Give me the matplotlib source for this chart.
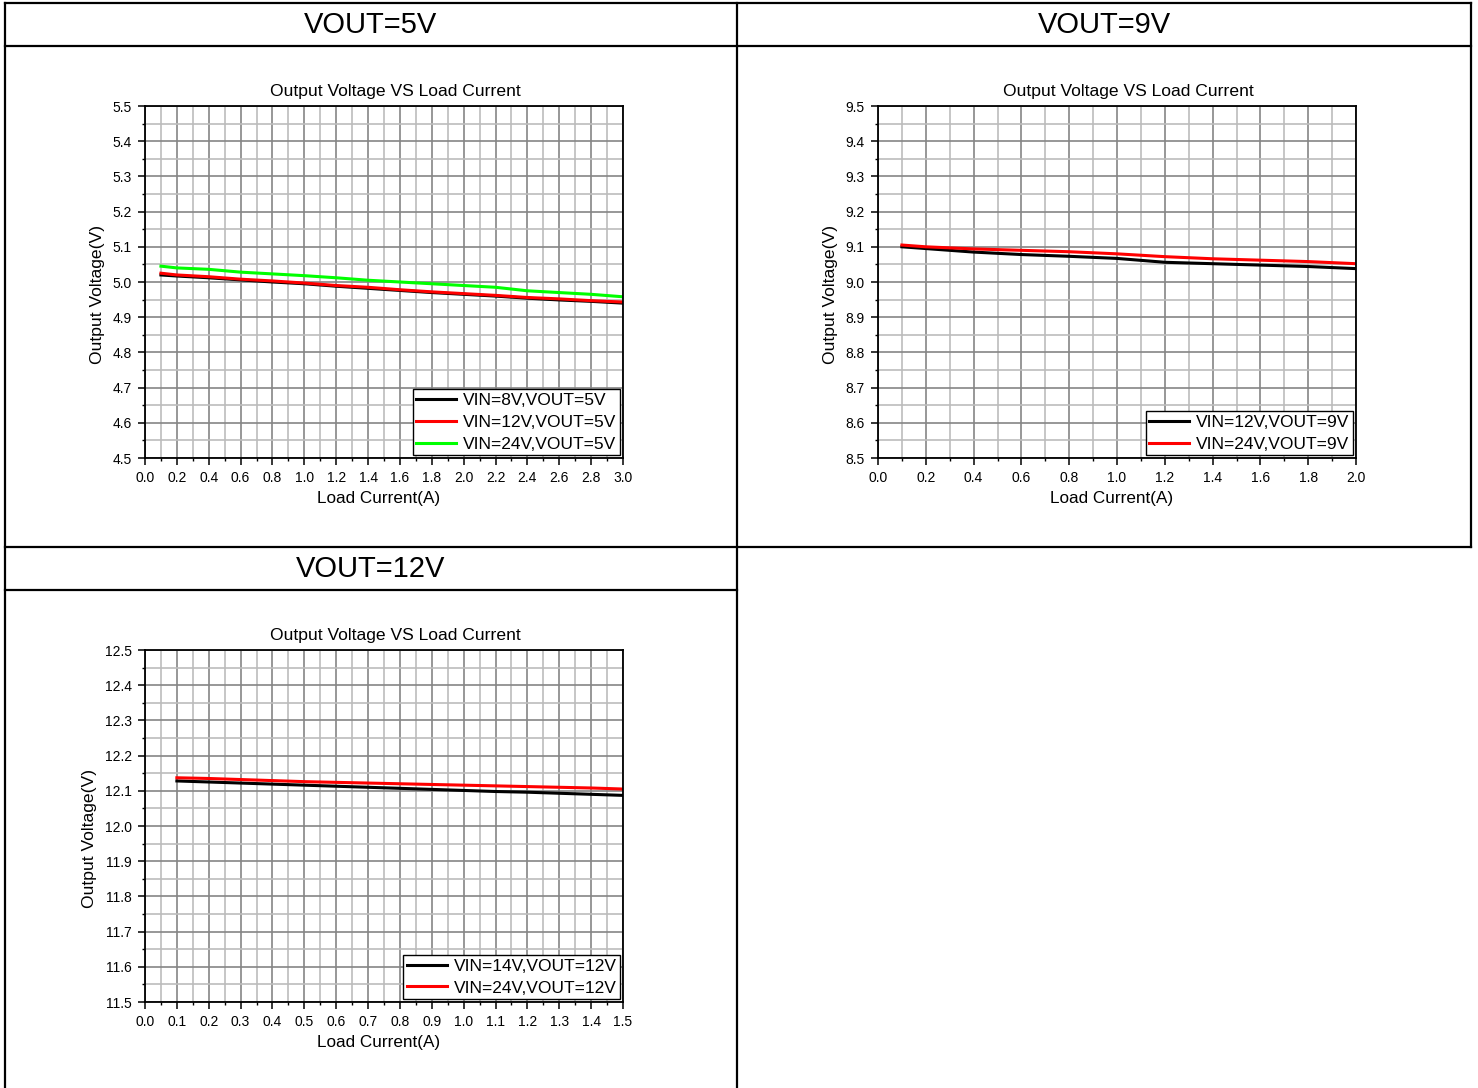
import matplotlib.pyplot as plt
from matplotlib.lines import Line2D
from matplotlib.ticker import MultipleLocator

plt.rcParams['font.family'] = ['Liberation Sans', 'DejaVu Sans']

W, H = 1478, 1088

# VOUT = 5V
x5 = [0.1, 0.2, 0.4, 0.6, 0.8, 1.0, 1.2, 1.4, 1.6, 1.8, 2.0, 2.2, 2.4, 2.6, 2.8, 3.0]
v5_vin8 = [5.020, 5.017, 5.012, 5.006, 5.000, 4.995, 4.988, 4.982, 4.976, 4.970,
           4.965, 4.960, 4.954, 4.949, 4.945, 4.940]
v5_vin12 = [5.025, 5.020, 5.015, 5.008, 5.003, 4.997, 4.990, 4.985, 4.978, 4.972,
            4.967, 4.962, 4.956, 4.952, 4.947, 4.943]
v5_vin24 = [5.045, 5.040, 5.036, 5.028, 5.023, 5.018, 5.012, 5.005, 5.000, 4.995,
            4.990, 4.985, 4.975, 4.970, 4.965, 4.958]

# VOUT = 9V
x9 = [0.1, 0.2, 0.4, 0.6, 0.8, 1.0, 1.2, 1.4, 1.6, 1.8, 2.0]
v9_vin12 = [9.100, 9.095, 9.085, 9.078, 9.073, 9.067, 9.056, 9.052, 9.048, 9.044, 9.038]
v9_vin24 = [9.105, 9.100, 9.094, 9.090, 9.086, 9.080, 9.072, 9.066, 9.062, 9.058, 9.052]

# VOUT = 12V
x12 = [0.1, 0.2, 0.3, 0.4, 0.5, 0.6, 0.7, 0.8, 0.9, 1.0, 1.1, 1.2, 1.3, 1.4, 1.5]
v12_vin14 = [12.128, 12.125, 12.122, 12.119, 12.116, 12.113, 12.110, 12.107, 12.104,
             12.101, 12.098, 12.096, 12.093, 12.090, 12.087]
v12_vin24 = [12.137, 12.135, 12.132, 12.129, 12.126, 12.124, 12.122, 12.120, 12.118,
             12.116, 12.114, 12.112, 12.110, 12.108, 12.105]

fig = plt.figure(figsize=(W / 100, H / 100), dpi=100)


def fx(px):
    return px / W


def fy(py):
    return 1 - py / H


def hline(y, x0, x1):
    fig.add_artist(Line2D([fx(x0), fx(x1)], [fy(y), fy(y)], color='black', lw=1.6))


def vline(x, y0, y1):
    fig.add_artist(Line2D([fx(x), fx(x)], [fy(y0), fy(y1)], color='black', lw=1.6))


# table frame
hline(3, 5, 1471)
hline(46, 5, 1471)
hline(547, 5, 1471)
hline(590, 5, 737)
vline(5, 3, 1088)
vline(737, 3, 1088)
vline(1471, 3, 547)

fig.text(fx(371), fy(25), 'VOUT=5V', ha='center', va='center', fontsize=21)
fig.text(fx(1104), fy(25), 'VOUT=9V', ha='center', va='center', fontsize=21)
fig.text(fx(371), fy(569), 'VOUT=12V', ha='center', va='center', fontsize=21)


def make_axes(left, top, xmax, xmaj, ymin):
    ax = fig.add_axes([fx(left), fy(top + 352), fx(478), 352 / H])
    ax.set_xlim(0, xmax)
    ax.set_ylim(ymin, ymin + 1.0)
    ax.xaxis.set_major_locator(MultipleLocator(xmaj))
    ax.xaxis.set_minor_locator(MultipleLocator(xmaj / 2))
    ax.yaxis.set_major_locator(MultipleLocator(0.1))
    ax.yaxis.set_minor_locator(MultipleLocator(0.05))
    ax.xaxis.set_major_formatter(plt.FormatStrFormatter('%.1f'))
    ax.yaxis.set_major_formatter(plt.FormatStrFormatter('%.1f'))
    ax.grid(which='major', color='#858585', lw=1.2)
    ax.grid(which='minor', color='#bcbcbc', lw=1.2)
    ax.set_axisbelow(True)
    for s in ax.spines.values():
        s.set_linewidth(1.3)
    ax.tick_params(which='major', direction='out', length=5, width=1.1, labelsize=10, pad=4.5)
    ax.tick_params(which='minor', direction='out', length=2.5, width=1.0)
    ax.set_title('Output Voltage VS Load Current', fontsize=12.6, pad=7, x=0.523)
    ax.set_xlabel('Load Current(A)', fontsize=12.3)
    ax.set_ylabel('Output Voltage(V)', fontsize=12.6)
    ax.xaxis.set_label_coords(0.488, -0.095)
    return ax


def add_legend(ax):
    leg = ax.legend(loc='lower right', fontsize=12.5, frameon=True, fancybox=False,
                    edgecolor='black', framealpha=1, handlelength=2.3,
                    borderaxespad=0.15, borderpad=0.22, labelspacing=0.38,
                    handletextpad=0.4)
    leg.get_frame().set_linewidth(1.0)


ax1 = make_axes(145, 106, 3.0, 0.2, 4.5)
ax1.plot(x5, v5_vin8, color='black', lw=2.2, label='VIN=8V,VOUT=5V')
ax1.plot(x5, v5_vin12, color='#ff0000', lw=2.2, label='VIN=12V,VOUT=5V')
ax1.plot(x5, v5_vin24, color='#00ff00', lw=2.2, label='VIN=24V,VOUT=5V')
add_legend(ax1)
ax1.yaxis.set_label_coords(-0.083, 0.466)

ax2 = make_axes(878, 106, 2.0, 0.2, 8.5)
ax2.plot(x9, v9_vin12, color='black', lw=2.2, label='VIN=12V,VOUT=9V')
ax2.plot(x9, v9_vin24, color='#ff0000', lw=2.2, label='VIN=24V,VOUT=9V')
add_legend(ax2)
ax2.yaxis.set_label_coords(-0.083, 0.466)

ax3 = make_axes(145, 650, 1.5, 0.1, 11.5)
ax3.plot(x12, v12_vin14, color='black', lw=2.2, label='VIN=14V,VOUT=12V')
ax3.plot(x12, v12_vin24, color='#ff0000', lw=2.2, label='VIN=24V,VOUT=12V')
add_legend(ax3)
ax3.yaxis.set_label_coords(-0.1, 0.466)

fig.savefig('out.png', dpi=100)
